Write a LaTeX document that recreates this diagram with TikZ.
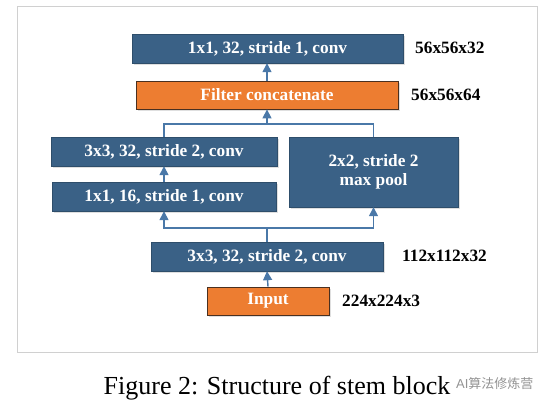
\documentclass[tikz,border=0pt]{standalone}
\usepackage{fontspec}
\setmainfont{Liberation Serif}
\newfontfamily\cjkfont{Noto Sans CJK SC}
\newfontfamily\wmfont{Liberation Sans}
\usetikzlibrary{arrows.meta,shadows}
\definecolor{boxblue}{HTML}{3A6186}
\definecolor{boxorange}{HTML}{ED7D31}
\definecolor{orangeedge}{HTML}{4A3020}
\definecolor{linkblue}{HTML}{4A78A8}
\definecolor{framegray}{HTML}{D0D0D0}
\tikzset{
  convbox/.style={rectangle, fill=boxblue, draw=boxblue!80!black, line width=0.4pt,
    text=white, font=\fontsize{17.3}{19.5}\selectfont\bfseries, inner sep=0pt, align=center,
    drop shadow={opacity=0.25, shadow xshift=1.5pt, shadow yshift=-2pt}},
  orangebox/.style={rectangle, fill=boxorange, draw=orangeedge, line width=0.8pt,
    text=white, font=\fontsize{17.3}{19.5}\selectfont\bfseries, inner sep=0pt,
    drop shadow={opacity=0.25, shadow xshift=1.5pt, shadow yshift=-2pt}},
  sizelabel/.style={anchor=west, inner sep=0pt, font=\fontsize{17.3}{20}\selectfont\bfseries},
  link/.style={draw=linkblue, line width=1.4pt},
  arrowlink/.style={link, -{Triangle[length=9pt,width=9pt]}},
}
\begin{document}
\begin{tikzpicture}[x=1pt,y=-1pt]
\useasboundingbox (0,0) rectangle (549,410);
\draw[framegray, line width=1pt] (17,6) rectangle (537,352);

\node[convbox, minimum width=271pt, minimum height=29pt] (top) at (267.5,48.5) {1x1, 32, stride 1, conv};
\node[orangebox, minimum width=262pt, minimum height=28pt] (concat) at (267,95) {Filter concatenate};
\node[convbox, minimum width=226pt, minimum height=29pt] (c3l) at (164,151.5) {3x3, 32, stride 2, conv};
\node[convbox, minimum width=224pt, minimum height=29pt] (c1) at (164,196.5) {1x1, 16, stride 1, conv};
\node[convbox, minimum width=169pt, minimum height=70pt] (pool) at (373.5,172) {2x2, stride 2\\[-1pt]max pool};
\node[convbox, minimum width=232pt, minimum height=29pt] (c3b) at (267,256.5) {3x3, 32, stride 2, conv};
\node[orangebox, minimum width=122pt, minimum height=28pt] (input) at (268,301) {Input};

\node[sizelabel] (l1) at (415,48) {56x56x32};
\node[sizelabel] (l2) at (411,95) {56x56x64};
\node[sizelabel] (l3) at (402,256) {112x112x32};
\node[sizelabel] (l4) at (342,301) {224x224x3};

\coordinate (upj) at (267,124);
\coordinate (lowj) at (267,228);

% upward flow
\draw[arrowlink] (input.north) -- (c3b.south);
\draw[link] (c3b.north -| lowj) -- (lowj);
\draw[arrowlink] (lowj) -| (c1.south);
\draw[arrowlink] (lowj) -| (pool.south);
\draw[arrowlink] (c1.north) -- (c3l.south);
\draw[link] (c3l.north) |- (upj);
\draw[link] (pool.north) |- (upj);
\draw[arrowlink] (upj) -- (concat.south -| upj);
\draw[arrowlink] (concat.north -| upj) -- (top.south -| upj);

\node[inner sep=0pt, font=\fontsize{26}{30}\selectfont] (cap) at (277,388) {Figure 2: Structure of stem block};
\node[anchor=west, inner sep=0pt, text=gray!85, font=\fontsize{13}{15}\selectfont] (wm) at (456,384) {{\wmfont AI}{\cjkfont 算法修炼营}};
\end{tikzpicture}
\end{document}
